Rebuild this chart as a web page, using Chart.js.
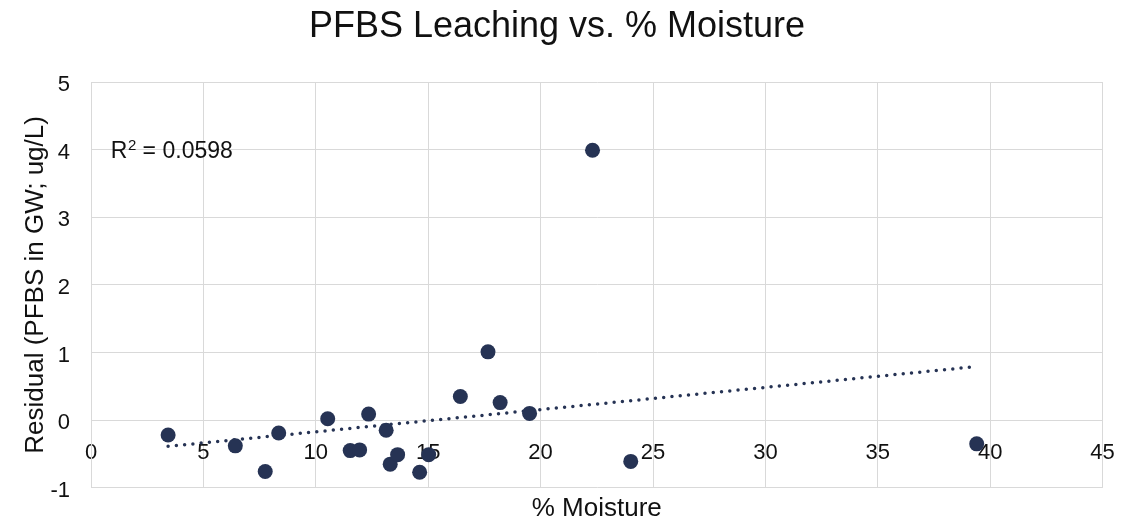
<!DOCTYPE html>
<html>
<head>
<meta charset="utf-8">
<script src="https://cdn.jsdelivr.net/npm/chart.js@4.4.1/dist/chart.umd.min.js"></script>
<style>
  html, body { margin: 0; padding: 0; background: #ffffff; }
  #wrap { width: 1140px; height: 522px; position: relative; }
</style>
</head>
<body>
<div id="wrap"><canvas id="chart" width="1140" height="522"></canvas></div>
<script>
// Soil moisture (%) for each sample
const moisture = [3.43, 6.42, 7.75, 8.35, 10.53, 11.53, 11.95, 12.35, 13.13, 13.31,
                  13.64, 14.62, 15.02, 16.43, 17.66, 18.20, 19.51, 22.31, 24.01, 39.40];
// Residual PFBS in groundwater (ug/L) for the same samples
const residual = [-0.22, -0.38, -0.76, -0.19, 0.02, -0.45, -0.44, 0.09, -0.15, -0.65,
                  -0.51, -0.77, -0.51, 0.35, 1.01, 0.26, 0.10, 3.99, -0.61, -0.35];

const chartTitle = 'PFBS Leaching vs. % Moisture';
const xTitle = '% Moisture';
const yTitle = 'Residual (PFBS in GW; ug/L)';
// R² annotation: base letter, superscript, remainder
const rSquaredParts = ['R', '2', ' = 0.0598'];

const xMin = 0, xMax = 45, xStep = 5;
const yMin = -1, yMax = 5, yStep = 1;

const navy = '#263354';
const gridColor = '#d9d9d9';
const textColor = '#111111';
const fontFamily = 'Arial, "Liberation Sans", Helvetica, sans-serif';

// Least-squares linear fit used for the dotted trendline
function linearFit(xs, ys) {
  const n = xs.length;
  const mx = xs.reduce((a, b) => a + b, 0) / n;
  const my = ys.reduce((a, b) => a + b, 0) / n;
  let sxy = 0, sxx = 0;
  for (let i = 0; i < n; i++) {
    sxy += (xs[i] - mx) * (ys[i] - my);
    sxx += (xs[i] - mx) * (xs[i] - mx);
  }
  const slope = sxy / sxx;
  return { slope, intercept: my - slope * mx };
}
const fit = linearFit(moisture, residual);
const xLo = Math.min(...moisture), xHi = Math.max(...moisture);
const trendPoints = [
  { x: xLo, y: fit.intercept + fit.slope * xLo },
  { x: xHi, y: fit.intercept + fit.slope * xHi }
];

const points = moisture.map((m, i) => ({ x: m, y: residual[i] }));

// Title and R² annotation drawn on the canvas
const annotations = {
  id: 'annotations',
  afterDraw(chart) {
    const { ctx, scales } = chart;
    ctx.save();
    ctx.fillStyle = textColor;
    ctx.textBaseline = 'middle';
    ctx.textAlign = 'center';
    ctx.font = '36px ' + fontFamily;
    ctx.fillText(chartTitle, 557, 27);

    ctx.textAlign = 'left';
    ctx.textBaseline = 'alphabetic';
    let x = scales.x.getPixelForValue(0.88);
    const base = scales.y.getPixelForValue(4) + 8.3;
    ctx.font = '23px ' + fontFamily;
    ctx.fillText(rSquaredParts[0], x, base);
    x += ctx.measureText(rSquaredParts[0]).width + 0.5;
    ctx.font = '15px ' + fontFamily;
    ctx.fillText(rSquaredParts[1], x, base - 8);
    x += ctx.measureText(rSquaredParts[1]).width;
    ctx.font = '23px ' + fontFamily;
    ctx.fillText(rSquaredParts[2], x, base);
    ctx.restore();
  }
};

new Chart(document.getElementById('chart'), {
  type: 'scatter',
  data: {
    datasets: [
      {
        label: 'Residual',
        data: points,
        backgroundColor: navy,
        borderWidth: 0,
        pointRadius: 7.5,
        pointHoverRadius: 7.5,
        order: 1
      },
      {
        label: 'Linear trend',
        type: 'line',
        data: trendPoints,
        borderColor: navy,
        borderWidth: 3.5,
        borderDash: [0, 8.3],
        borderCapStyle: 'round',
        pointRadius: 0,
        fill: false,
        order: 2
      }
    ]
  },
  options: {
    responsive: false,
    animation: false,
    devicePixelRatio: 1,
    layout: { padding: { top: 82, right: 37.4, left: 0, bottom: 0 } },
    plugins: {
      legend: { display: false },
      title: { display: false },
      tooltip: { enabled: false }
    },
    scales: {
      x: {
        type: 'linear',
        position: { y: 0 },
        min: xMin, max: xMax,
        ticks: {
          stepSize: xStep,
          padding: 20,
          color: textColor,
          font: { family: fontFamily, size: 22 },
          maxRotation: 0
        },
        grid: { color: gridColor, lineWidth: 1, drawTicks: false },
        border: { display: true, color: gridColor, width: 1 }
      },
      xTitleAxis: {
        type: 'linear',
        axis: 'x',
        position: 'bottom',
        min: xMin, max: xMax,
        ticks: { display: false },
        grid: { display: false, drawTicks: false },
        border: { display: false },
        title: {
          display: true,
          text: xTitle,
          color: textColor,
          font: { family: fontFamily, size: 26 },
          padding: { top: 0, bottom: -5 }
        },
        afterFit(scale) { scale.height = 32; }
      },
      y: {
        type: 'linear',
        position: 'left',
        min: yMin, max: yMax,
        ticks: {
          stepSize: yStep,
          padding: 21,
          labelOffset: 3,
          color: textColor,
          font: { family: fontFamily, size: 22 }
        },
        grid: { color: gridColor, lineWidth: 1, drawTicks: false },
        border: { display: true, color: gridColor, width: 1 },
        title: {
          display: true,
          text: yTitle,
          color: textColor,
          font: { family: fontFamily, size: 26 },
          padding: { top: 20.5, bottom: 0 }
        },
        afterFit(scale) { scale.width = 91; }
      }
    }
  },
  plugins: [annotations]
});
</script>
</body>
</html>
